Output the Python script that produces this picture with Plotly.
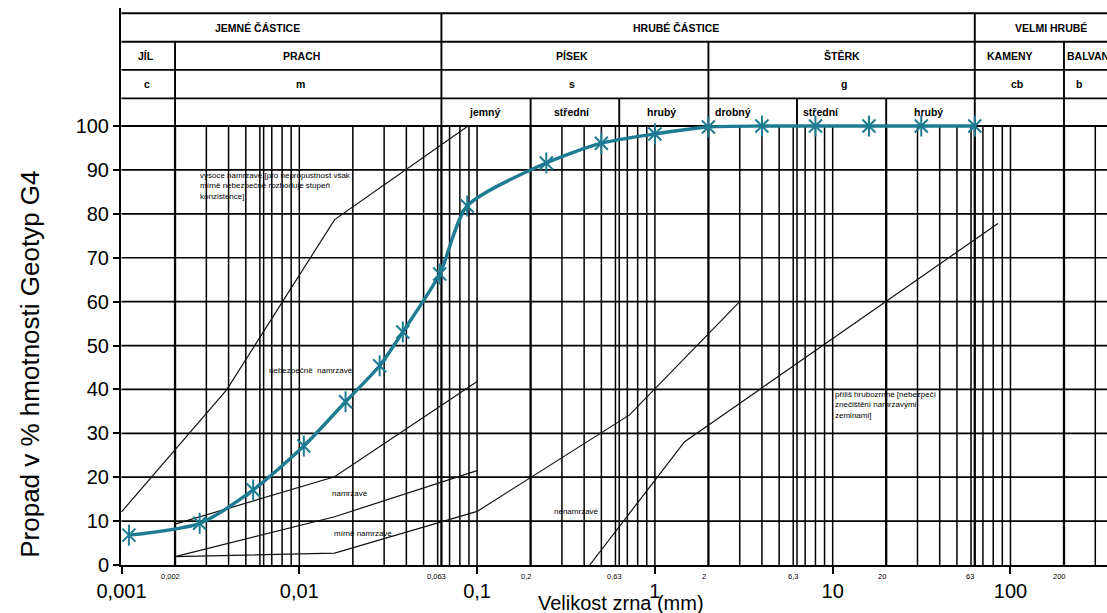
import math
import plotly.graph_objects as go

# ---------------- data ----------------
grain_mm = [0.0011, 0.00275, 0.0055, 0.0106, 0.0182, 0.0283, 0.0382, 0.0616, 0.088,
            0.245, 0.50, 1.0, 2.0, 4.0, 8.0, 16.0, 31.5, 63.0]
passing = [6.8, 9.5, 17.1, 27.1, 37.2, 45.4, 53.1, 66.3, 81.8,
           91.6, 96.1, 98.2, 99.8, 100, 100, 100, 100, 100]

# frost susceptibility boundary lines
line_a_x = [0.001, 0.0039, 0.0158, 0.089]
line_a_y = [12.1, 39.9, 78.7, 100]
line_b_x = [0.002, 0.0158, 0.1]
line_b_y = [9.3, 20.1, 41.8]
line_c_x = [0.002, 0.0158, 0.1]
line_c_y = [1.9, 11.0, 21.5]
line_d_x = [0.002, 0.0158, 0.1, 0.72, 3.0]
line_d_y = [1.9, 2.7, 12.2, 34.2, 60]
line_e_x = [0.43, 1.47, 85]
line_e_y = [0, 28.1, 77.8]

x_tick_vals = [0.001, 0.01, 0.1, 1, 10, 100]
x_tick_text = ["0,001", "0,01", "0,1", "1", "10", "100"]
y_tick_vals = [0, 10, 20, 30, 40, 50, 60, 70, 80, 90, 100]

sub_ticks = [0.002, 0.063, 0.2, 0.63, 2, 6.3, 20, 63, 200]
sub_tick_text = ["0,002", "0,063", "0,2", "0,63", "2", "6,3", "20", "63", "200"]

# header rows (y in data units above 100)
row_edges = [100, 106.3, 112.8, 119.2, 125.7]
row1 = [("JEMNÉ ČÁSTICE", 0.00582), ("HRUBÉ ČÁSTICE", 1.32), ("VELMI HRUBÉ", 170)]
row2 = [("JÍL", 0.001365), ("PRACH", 0.01028), ("PÍSEK", 0.34), ("ŠTĚRK", 11.35), ("KAMENY", 100)]
row3 = [("c", 0.001384), ("m", 0.01016), ("s", 0.34), ("g", 11.64), ("cb", 109)]
row4 = [("jemný", 0.1114), ("střední", 0.34), ("hrubý", 1.09), ("drobný", 2.735),
        ("střední", 8.65), ("hrubý", 34.6)]
# header vertical separators: (x, top edge)
header_verticals = [(0.002, 119.2), (0.063, 125.7), (0.2, 106.3), (0.63, 106.3),
                    (2, 119.2), (6.3, 106.3), (20, 106.3), (63, 125.7), (200, 119.2)]

TEAL = "#1d7b92"
FONT = "Arial, Liberation Sans, sans-serif"

fig = go.Figure()

# ---------------- grid ----------------
thick_vals = [0.002, 0.063, 0.2, 2, 20, 63, 200]
grid_vals = []
for k in range(-3, 3):
    for m in range(1, 10):
        v = m * 10 ** k
        if v > 0.0015 and v < 400:
            grid_vals.append(v)
grid_vals += [0.0063, 0.63, 6.3]

def vlines(vals, y0, y1):
    xs, ys = [], []
    for v in vals:
        xs += [v, v, None]
        ys += [y0, y1, None]
    return xs, ys

gx, gy = vlines([v for v in grid_vals if all(abs(v - t) > 1e-9 for t in thick_vals)], 0, 100)
fig.add_trace(go.Scatter(x=gx, y=gy, mode="lines", line=dict(color="#000", width=1.5),
                         hoverinfo="skip", showlegend=False))
tx, ty = vlines(thick_vals, 0, 100)
fig.add_trace(go.Scatter(x=tx, y=ty, mode="lines", line=dict(color="#000", width=2.3),
                         hoverinfo="skip", showlegend=False))
hx, hy = [], []
for yv in y_tick_vals[1:]:
    hx += [0.001, 1000, None]
    hy += [yv, yv, None]
fig.add_trace(go.Scatter(x=hx, y=hy, mode="lines", line=dict(color="#000", width=1.7),
                         hoverinfo="skip", showlegend=False))

# header lines
hhx, hhy = [], []
for yv in row_edges:
    hhx += [0.001, 1000, None]
    hhy += [yv, yv, None]
for xv, top in header_verticals:
    hhx += [xv, xv, None]
    hhy += [100, top, None]
fig.add_trace(go.Scatter(x=hhx, y=hhy, mode="lines", line=dict(color="#000", width=1.9),
                         hoverinfo="skip", showlegend=False))

# frost boundary lines
for lx, ly in [(line_a_x, line_a_y), (line_b_x, line_b_y), (line_c_x, line_c_y),
               (line_d_x, line_d_y), (line_e_x, line_e_y)]:
    fig.add_trace(go.Scatter(x=lx, y=ly, mode="lines", line=dict(color="#111", width=1.2),
                             hoverinfo="skip", showlegend=False))

# ---------------- grading curve ----------------
fig.add_trace(go.Scatter(x=grain_mm, y=passing, mode="lines",
                         line=dict(color=TEAL, width=3.4, shape="spline", smoothing=0.7),
                         showlegend=False))
fig.add_trace(go.Scatter(x=grain_mm, y=passing, mode="markers",
                         marker=dict(symbol="x-thin-open", size=13, color=TEAL,
                                     line=dict(color=TEAL, width=2)),
                         showlegend=False, cliponaxis=False))
fig.add_trace(go.Scatter(x=grain_mm, y=passing, mode="markers",
                         marker=dict(symbol="line-ns-open", size=15, color=TEAL,
                                     line=dict(color=TEAL, width=2)),
                         showlegend=False, cliponaxis=False))

# ---------------- annotations ----------------
ann = []
def rc(i):
    return (row_edges[i] + row_edges[i + 1]) / 2

HDR = 10.5
for txt, xv in row1:
    ann.append(dict(x=math.log10(xv), y=rc(3), text="<b>%s</b>" % txt, font=dict(size=HDR)))
for txt, xv in row2:
    ann.append(dict(x=math.log10(xv), y=rc(2), text="<b>%s</b>" % txt, font=dict(size=HDR)))
ann.append(dict(x=math.log10(202), y=rc(2), text="<b>BALVANY</b>", xanchor="left", font=dict(size=HDR)))
for txt, xv in row3:
    ann.append(dict(x=math.log10(xv), y=rc(1), text="<b>%s</b>" % txt, font=dict(size=HDR)))
ann.append(dict(x=math.log10(244), y=rc(1), text="<b>b</b>", font=dict(size=HDR)))
for txt, xv in row4:
    ann.append(dict(x=math.log10(xv), y=rc(0), text="<b>%s</b>" % txt, font=dict(size=HDR)))

small = dict(size=8)
ann += [
    dict(x=math.log10(0.00268), y=90.2, text="vysoce namrzavé [pro nepropustnost však<br>mírně nebezpečné rozhoduje stupeň<br>konzistence]",
         xanchor="left", yanchor="top", align="left", font=small),
    dict(x=math.log10(0.00662), y=44.2, text="nebezpečně  namrzavé", xanchor="left", font=small),
    dict(x=math.log10(0.0148), y=16.2, text="namrzavé", xanchor="left", font=small),
    dict(x=math.log10(0.0152), y=7.1, text="mírně namrzavé", xanchor="left", font=small),
    dict(x=math.log10(0.265), y=12.1, text="nenamrzavé", xanchor="left", font=small),
    dict(x=math.log10(9.98), y=40.4, text="příliš hrubozrnné [nebezpečí<br>znečištění namrzavými<br>zeminami]",
         xanchor="left", yanchor="top", align="left", font=small),
]
for a in ann:
    a.setdefault("xref", "x")
    a.setdefault("yref", "y")
    a.setdefault("showarrow", False)
    a.setdefault("xanchor", "center")
    a.setdefault("yanchor", "middle")
    a["font"] = dict(family=FONT, color="#000", size=a["font"]["size"])

for v, t in zip(sub_ticks, sub_tick_text):
    ann.append(dict(xref="x", yref="paper", x=math.log10(v) - 0.025, y=-0.0215, text=t,
                    showarrow=False, xanchor="center", yanchor="middle",
                    font=dict(family=FONT, size=7.5, color="#000")))

ann.append(dict(xref="paper", yref="paper", x=-0.092, y=0.36, text="Propad v % hmotnosti Geotyp G4",
                textangle=-90, showarrow=False, xanchor="center", yanchor="middle",
                font=dict(family=FONT, size=26, color="#000")))
ann.append(dict(xref="paper", yref="paper", x=0.507, y=-0.068, yanchor="middle", xanchor="center",
                text="Velikost zrna (mm)", showarrow=False,
                font=dict(family=FONT, size=20, color="#000")))

fig.update_layout(
    width=1107, height=613, autosize=False,
    margin=dict(l=121, r=0, t=8, b=48),
    paper_bgcolor="white", plot_bgcolor="white",
    annotations=ann,
    font=dict(family=FONT, color="#000"),
    xaxis=dict(type="log", range=[-3.003, 2.543], tickvals=x_tick_vals, ticktext=x_tick_text,
               showgrid=False, zeroline=False, showline=True, linecolor="#000", linewidth=2,
               ticks="outside", ticklen=7, tickwidth=1.5, tickcolor="#000",
               tickfont=dict(size=20, family=FONT, color="#000")),
    yaxis=dict(range=[0, 126.9], tickvals=y_tick_vals, showgrid=False, zeroline=False,
               showline=True, linecolor="#000", linewidth=2,
               ticks="outside", ticklen=6, tickwidth=1.5, tickcolor="#000",
               tickfont=dict(size=20, family=FONT, color="#000")),
)

fig.write_html("out.html")
